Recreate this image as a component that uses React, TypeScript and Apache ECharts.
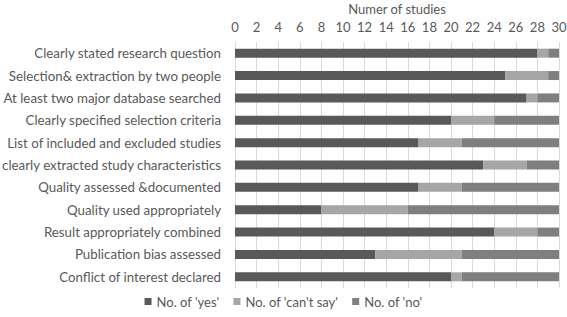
import React, { useEffect, useRef } from "react";
import * as echarts from "echarts";

const categories = [
  "Clearly stated research question",
  "Selection& extraction by two people",
  "At least two major database searched",
  "Clearly specified selection criteria",
  "List of included and excluded studies",
  "clearly extracted study characteristics",
  "Quality assessed &documented",
  "Quality used appropriately",
  "Result appropriately combined",
  "Publication bias assessed",
  "Conflict of interest declared",
];
const yesValues = [28, 25, 27, 20, 17, 23, 17, 8, 24, 13, 20];
const cantSayValues = [1, 4, 1, 4, 4, 4, 4, 8, 4, 8, 1];
const noValues = [1, 1, 2, 6, 9, 3, 9, 14, 2, 9, 9];
const seriesNames = ["No. of 'yes'", "No. of 'can't say'", "No. of 'no'"];
const colors = ["#595959", "#a6a6a6", "#7f7f7f"];

export default function App() {
  const ref = useRef<HTMLDivElement>(null);
  useEffect(() => {
    if (!ref.current) return;
    const chart = echarts.init(ref.current, null, { renderer: "svg" });
    const font = "Lato, 'Open Sans', sans-serif";
    const dataSets = [yesValues, cantSayValues, noValues];
    chart.setOption({
      animation: false,
      textStyle: { fontFamily: font },
      color: colors,
      grid: { left: 235, right: 8, top: 42, bottom: 29, containLabel: false, outerBoundsMode: "none" },
      legend: {
        bottom: 4,
        left: "center",
        icon: "rect",
        itemWidth: 7,
        itemHeight: 7,
        itemGap: 14,
        itemStyle: { borderWidth: 0 },
        textStyle: { fontFamily: font, fontSize: 13, color: "#595959" },
        data: seriesNames,
      },
      xAxis: {
        type: "value",
        position: "top",
        min: 0,
        max: 30,
        interval: 2,
        name: "Numer of studies",
        nameLocation: "middle",
        nameGap: 23,
        nameTextStyle: { fontFamily: font, fontSize: 13, color: "#595959", verticalAlign: "bottom" },
        axisLabel: { fontFamily: font, fontSize: 13, color: "#595959", margin: 9 },
        axisLine: { show: false },
        axisTick: { show: false },
        splitLine: { show: true, lineStyle: { color: "#d9d9d9", width: 1 } },
      },
      yAxis: {
        type: "category",
        inverse: true,
        data: categories,
        axisLabel: { fontFamily: font, fontSize: 13.3, color: "#595959", margin: 14 },
        axisLine: { show: true, lineStyle: { color: "#d9d9d9" } },
        axisTick: { show: false },
      },
      series: dataSets.map((d, i) => ({
        name: seriesNames[i],
        type: "bar",
        stack: "total",
        barWidth: 9,
        data: d,
        itemStyle: { color: colors[i] },
      })),
    });
    return () => chart.dispose();
  }, []);
  return <div ref={ref} style={{ width: 567, height: 317, position: "absolute", left: 0, top: 0, background: "#fff" }} />;
}
